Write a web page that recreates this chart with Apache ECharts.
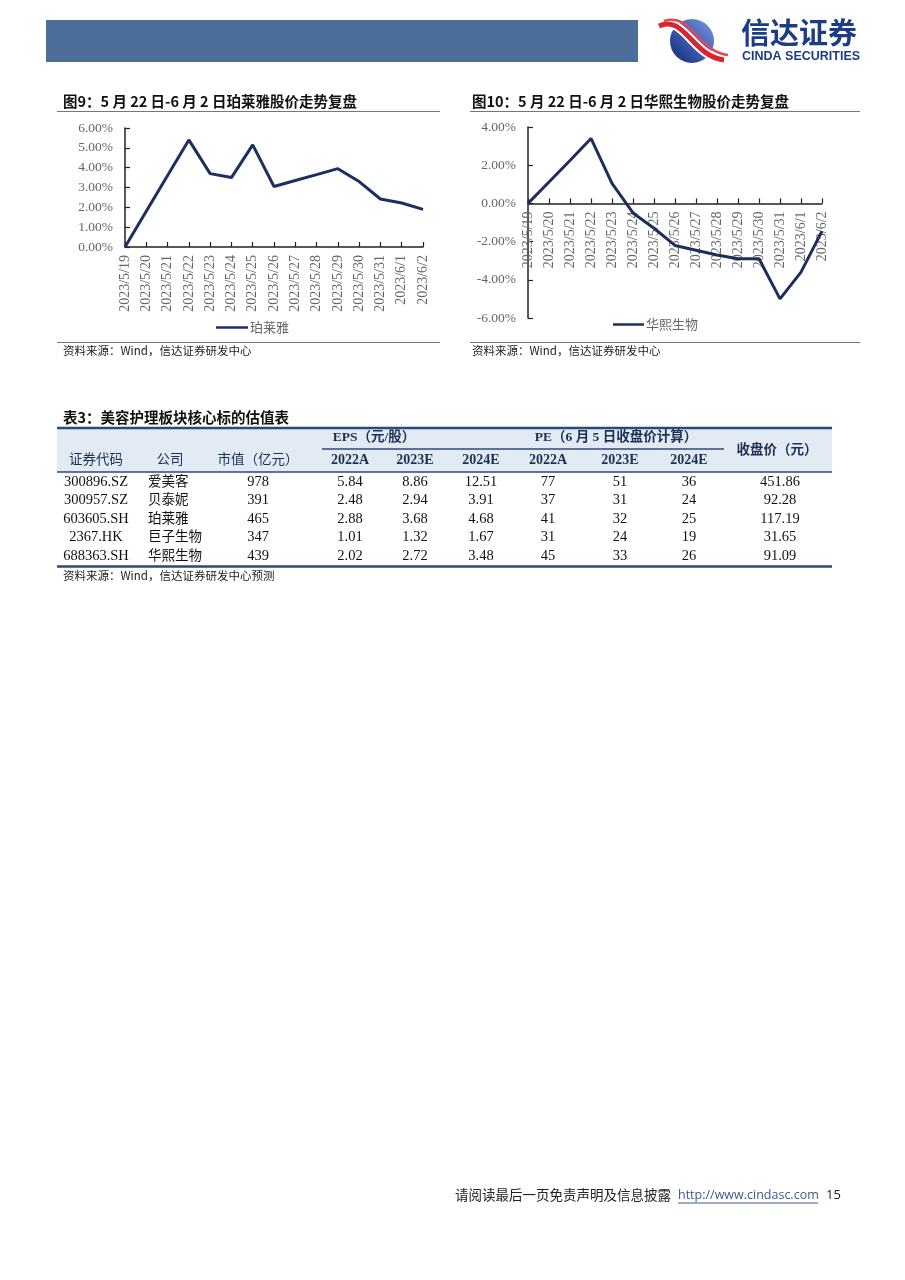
<!DOCTYPE html>
<html>
<head>
<meta charset="utf-8">
<script src="https://cdn.jsdelivr.net/npm/echarts@6/dist/echarts.min.js"></script>
<style>
html,body{margin:0;padding:0;background:#fff;}
#main{width:905px;height:1280px;}
</style>
</head>
<body>
<div id="main"></div>
<script>
// ---------- data ----------
var dates = ['2023/5/19','2023/5/20','2023/5/21','2023/5/22','2023/5/23','2023/5/24','2023/5/25','2023/5/26','2023/5/27','2023/5/28','2023/5/29','2023/5/30','2023/5/31','2023/6/1','2023/6/2'];
var proyaValues = [0.0, 1.8, 3.6, 5.4, 3.7, 3.5, 5.15, 3.05, 3.35, 3.65, 3.95, 3.3, 2.42, 2.22, 1.9];
var bloomageValues = [0.0, 1.12, 2.25, 3.4, 1.05, -0.5, -1.3, -2.2, -2.45, -2.7, -2.9, -2.9, -5.0, -3.6, -1.45];
var proyaName = '珀莱雅';
var bloomageName = '华熙生物';

var tableCodes = ['300896.SZ','300957.SZ','603605.SH','2367.HK','688363.SH'];
var tableCompanies = ['爱美客','贝泰妮','珀莱雅','巨子生物','华熙生物'];
var tableMktCap = ['978','391','465','347','439'];
var tableEps2022 = ['5.84','2.48','2.88','1.01','2.02'];
var tableEps2023 = ['8.86','2.94','3.68','1.32','2.72'];
var tableEps2024 = ['12.51','3.91','4.68','1.67','3.48'];
var tablePe2022 = ['77','37','41','31','45'];
var tablePe2023 = ['51','31','32','24','33'];
var tablePe2024 = ['36','24','25','19','26'];
var tableClose = ['451.86','92.28','117.19','31.65','91.09'];
var tableHeaderRow2 = ['证券代码','公司','市值（亿元）','2022A','2023E','2024E','2022A','2023E','2024E'];

// ---------- styles ----------
var SERIF = '"Liberation Serif","Times New Roman","Noto Sans CJK SC",serif';
var CJK = '"Noto Sans CJK SC","Liberation Serif",sans-serif';
var LINE_COLOR = '#1c2f5e';
var AXIS_COLOR = '#222';
var LABEL_COLOR = '#666';

var chart = echarts.init(document.getElementById('main'), null, {renderer:'canvas'});

function txt(x, y, s, o) {
  o = o || {};
  return {
    type: 'text', x: x, y: y, silent: true,
    style: {
      text: s, x: 0, y: 0,
      fill: o.color || '#222',
      font: (o.weight || 'normal') + ' ' + (o.size || 12) + 'px ' + (o.family || CJK),
      textAlign: o.align || 'left',
      textVerticalAlign: 'middle'
    }
  };
}
function line(x1, y1, x2, y2, color, w) {
  return {type:'line', silent:true, shape:{x1:x1,y1:y1,x2:x2,y2:y2}, style:{stroke:color, lineWidth:w}};
}

var g = [];
// header bar
g.push({type:'rect', silent:true, shape:{x:46,y:20,width:592,height:42}, style:{fill:'#4b6f98'}});
// logo
g.push({type:'circle', silent:true, shape:{cx:692,cy:41,r:22},
  style:{fill:new echarts.graphic.LinearGradient(1,0,0,1,[{offset:0,color:'#7d9be0'},{offset:0.5,color:'#3c5fb6'},{offset:1,color:'#16296e'}])}});
g.push({type:'bezierCurve', silent:true, shape:{x1:659,y1:26,x2:724,y2:60,cpx1:684,cpy1:14,cpx2:692,cpy2:56}, style:{stroke:'#ffffff',lineWidth:9,fill:null}});
g.push({type:'bezierCurve', silent:true, shape:{x1:659,y1:26,x2:724,y2:60,cpx1:684,cpy1:14,cpx2:692,cpy2:56}, style:{stroke:'#d8262e',lineWidth:5,fill:null}});
g.push({type:'bezierCurve', silent:true, shape:{x1:664,y1:21,x2:728,y2:55,cpx1:692,cpy1:12,cpx2:698,cpy2:52}, style:{stroke:'#e9474d',lineWidth:2.5,fill:null}});
g.push(txt(741, 33, '信达证券', {size:29, weight:'bold', color:'#1d3c86'}));
g.push(txt(742, 56.5, 'CINDA SECURITIES', {size:12.5, weight:'bold', color:'#1d3c86', family:'"Liberation Sans",Arial,sans-serif'}));

// chart titles
g.push(txt(63, 101, '图9：5 月 22 日-6 月 2 日珀莱雅股价走势复盘', {size:14.5, weight:'bold', color:'#111'}));
g.push(line(57, 111.5, 440, 111.5, '#777', 1.2));
g.push(txt(472, 101, '图10：5 月 22 日-6 月 2 日华熙生物股价走势复盘', {size:14.5, weight:'bold', color:'#111'}));
g.push(line(470, 111.5, 860, 111.5, '#777', 1.2));

// sources under charts
g.push(line(57, 342.5, 440, 342.5, '#777', 1.2));
g.push(txt(63, 351, '资料来源：Wind，信达证券研发中心', {size:11.5, color:'#222'}));
g.push(line(470, 342.5, 860, 342.5, '#777', 1.2));
g.push(txt(472, 351, '资料来源：Wind，信达证券研发中心', {size:11.5, color:'#222'}));

// table
var TL = 57, TR = 832;
g.push(txt(63, 417, '表3：美容护理板块核心标的估值表', {size:14.5, weight:'bold', color:'#111'}));
g.push({type:'rect', silent:true, shape:{x:TL,y:428,width:TR-TL,height:44}, style:{fill:'#e2eaf3'}});
g.push(line(TL, 428, TR, 428, '#2c4a78', 2.5));
g.push(line(TL, 472, TR, 472, '#2c4a78', 1.5));
g.push(line(322, 449, 724, 449, '#2c4a78', 1.5));
var colX = [96, 148, 258, 350, 415, 481, 548, 620, 689, 780];
var colAlign = ['center','left','center','center','center','center','center','center','center','center'];
var hdrColor = '#1e2f55';
g.push(txt(374, 438, 'EPS（元/股）', {size:13.5, weight:'bold', color:hdrColor, align:'center', family:SERIF}));
g.push(txt(616, 438, 'PE（6 月 5 日收盘价计算）', {size:13.5, weight:'bold', color:hdrColor, align:'center', family:SERIF}));
g.push(txt(777, 449, '收盘价（元）', {size:13.5, weight:'bold', color:hdrColor, align:'center'}));
tableHeaderRow2.forEach(function(h, i){
  var cx = i === 1 ? 170 : colX[i];
  var isNum = i >= 3;
  g.push(txt(cx, isNum ? 460 : 459, h, {size:isNum?14:13.5, weight:isNum?'bold':'normal', color:hdrColor, align:'center', family:isNum?SERIF:CJK}));
});
var rowY = [482, 500.5, 519, 537.5, 556];
var cols = [tableCodes, tableCompanies, tableMktCap, tableEps2022, tableEps2023, tableEps2024, tablePe2022, tablePe2023, tablePe2024, tableClose];
cols.forEach(function(col, ci){
  col.forEach(function(v, ri){
    var isCjk = ci === 1;
    g.push(txt(colX[ci], rowY[ri] - (isCjk ? 1.5 : 0), v, {size:isCjk?13.5:14.5, color:'#111', align:colAlign[ci], family:isCjk?CJK:SERIF}));
  });
});
g.push(line(TL, 566.5, TR, 566.5, '#2c4a78', 2.5));
g.push(txt(63, 576, '资料来源：Wind，信达证券研发中心预测', {size:11.5, color:'#222'}));

// footer
g.push(txt(455, 1195, '请阅读最后一页免责声明及信息披露', {size:13.5, color:'#222'}));
g.push(txt(678, 1195, 'http://www.cindasc.com', {size:12.5, color:'#3c5a8c', family:'"Open Sans","Liberation Sans",sans-serif'}));
g.push(line(678, 1203, 818, 1203, '#3c5a8c', 1));
g.push(txt(826, 1195, '15', {size:13, color:'#222', family:'"Open Sans","Liberation Sans",sans-serif'}));

function xAxisCfg(gi, offset) {
  return {
    type:'category', gridIndex:gi, data:dates, boundaryGap:false, position:'bottom', offset:offset,
    axisLine:{show:true, onZero:false, lineStyle:{color:AXIS_COLOR, width:1.5}},
    axisTick:{show:true, inside:true, length:5, lineStyle:{color:AXIS_COLOR, width:1.2}},
    axisLabel:{rotate:90, interval:0, margin:8, color:LABEL_COLOR, fontFamily:SERIF, fontSize:14},
    splitLine:{show:false}
  };
}
function yAxisCfg(gi, min, max, itv) {
  return {
    type:'value', gridIndex:gi, min:min, max:max, interval:itv,
    axisLine:{show:true, lineStyle:{color:AXIS_COLOR, width:1.5}},
    axisTick:{show:true, inside:true, length:5, lineStyle:{color:AXIS_COLOR, width:1.2}},
    axisLabel:{margin:12, color:LABEL_COLOR, fontFamily:SERIF, fontSize:13.5,
      formatter:function(v){ return v.toFixed(2) + '%'; }},
    splitLine:{show:false}
  };
}

// chart 2 grid geometry: x axis sits at the zero value
var g2Height = 191, g2Min = -6, g2Max = 4;
var g2ZeroOffset = -g2Height * (0 - g2Min) / (g2Max - g2Min);

chart.setOption({
  animation:false,
  backgroundColor:'#fff',
  grid:[
    {left:125, top:128, width:298, height:119},
    {left:528, top:127, width:294, height:g2Height}
  ],
  xAxis:[xAxisCfg(0, 0), xAxisCfg(1, g2ZeroOffset)],
  yAxis:[yAxisCfg(0, 0, 6, 1), yAxisCfg(1, g2Min, g2Max, 2)],
  legend:[
    {data:[proyaName], left:211, top:316, itemWidth:32, itemHeight:10, itemGap:4,
      icon:'path://M0,4 L32,4 L32,6.5 L0,6.5 Z',
      textStyle:{color:LABEL_COLOR, fontFamily:CJK, fontSize:13, padding:[0,0,0,-3]}},
    {data:[bloomageName], left:608, top:313, itemWidth:31, itemHeight:10, itemGap:4,
      icon:'path://M0,4 L31,4 L31,6.5 L0,6.5 Z',
      textStyle:{color:LABEL_COLOR, fontFamily:CJK, fontSize:13, padding:[0,0,0,-3]}}
  ],
  series:[
    {name:proyaName, type:'line', xAxisIndex:0, yAxisIndex:0, data:proyaValues,
      symbol:'none', lineStyle:{color:LINE_COLOR, width:3}, itemStyle:{color:LINE_COLOR}},
    {name:bloomageName, type:'line', xAxisIndex:1, yAxisIndex:1, data:bloomageValues,
      symbol:'none', lineStyle:{color:LINE_COLOR, width:3}, itemStyle:{color:LINE_COLOR}}
  ],
  graphic:g
});
</script>
</body>
</html>
